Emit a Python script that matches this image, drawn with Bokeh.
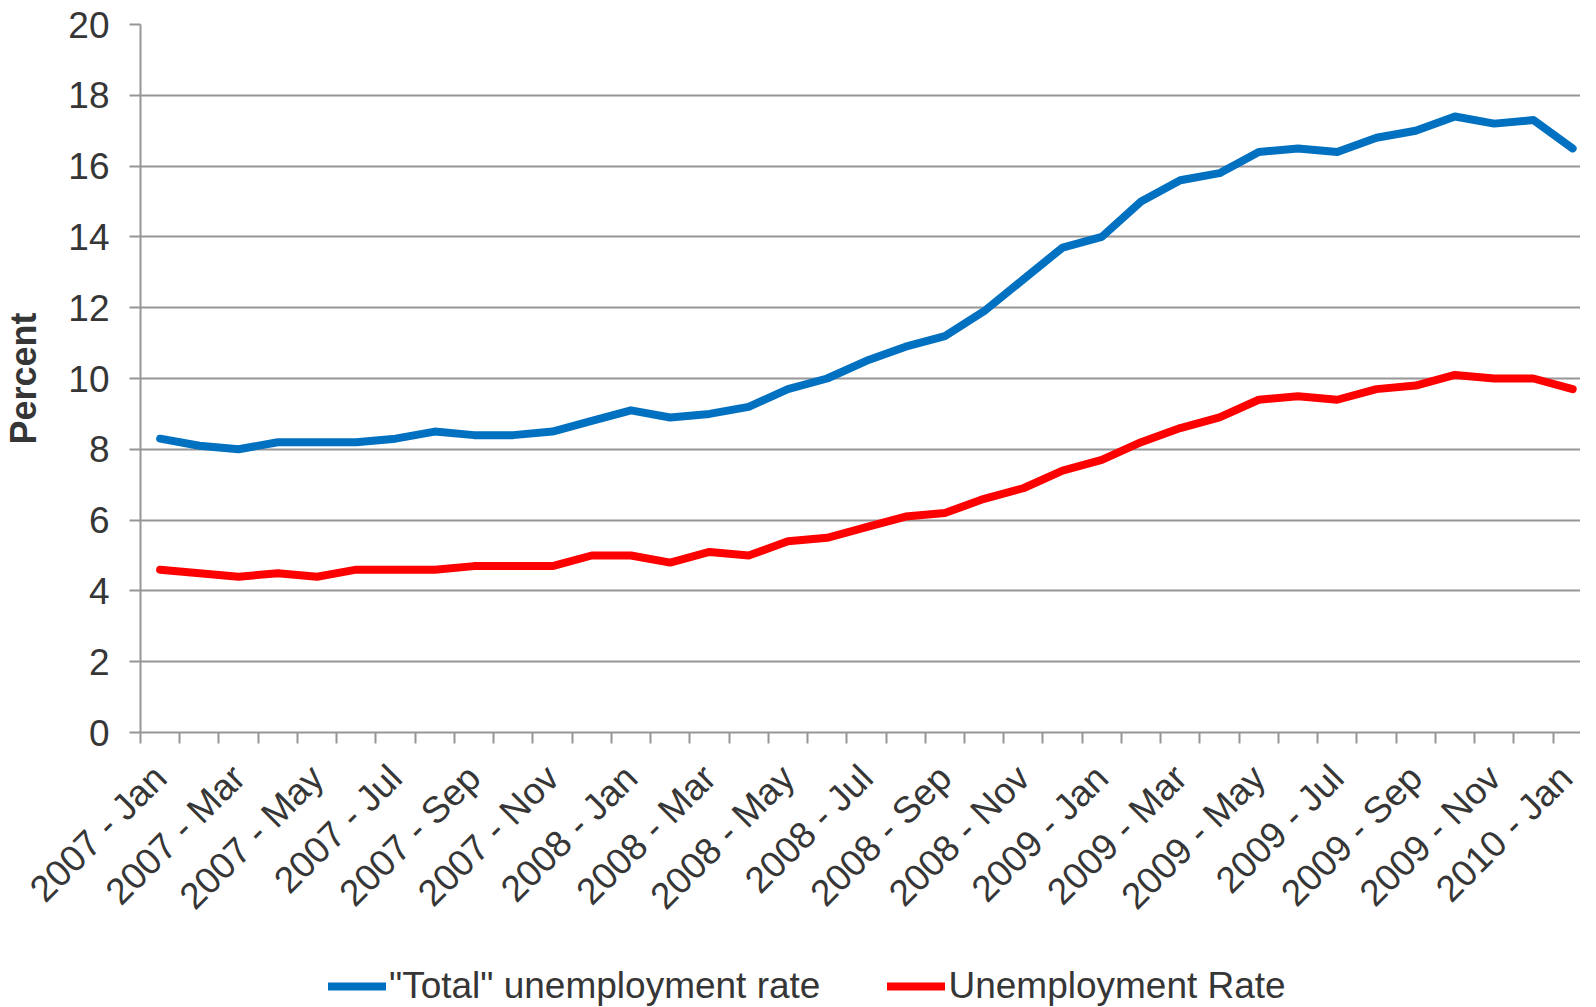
from math import pi
from bokeh.plotting import figure
from bokeh.layouts import column
from bokeh.models import FixedTicker, Legend, LegendItem, ColumnDataSource
from bokeh.embed import file_html
from bokeh.resources import INLINE

months = [
    "2007 - Jan", "2007 - Feb", "2007 - Mar", "2007 - Apr", "2007 - May", "2007 - Jun",
    "2007 - Jul", "2007 - Aug", "2007 - Sep", "2007 - Oct", "2007 - Nov", "2007 - Dec",
    "2008 - Jan", "2008 - Feb", "2008 - Mar", "2008 - Apr", "2008 - May", "2008 - Jun",
    "2008 - Jul", "2008 - Aug", "2008 - Sep", "2008 - Oct", "2008 - Nov", "2008 - Dec",
    "2009 - Jan", "2009 - Feb", "2009 - Mar", "2009 - Apr", "2009 - May", "2009 - Jun",
    "2009 - Jul", "2009 - Aug", "2009 - Sep", "2009 - Oct", "2009 - Nov", "2009 - Dec",
    "2010 - Jan",
]

total_rate = [
    8.3, 8.1, 8.0, 8.2, 8.2, 8.2, 8.3, 8.5, 8.4, 8.4, 8.5, 8.8,
    9.1, 8.9, 9.0, 9.2, 9.7, 10.0, 10.5, 10.9, 11.2, 11.9, 12.8, 13.7,
    14.0, 15.0, 15.6, 15.8, 16.4, 16.5, 16.4, 16.8, 17.0, 17.4, 17.2, 17.3,
    16.5,
]

unemployment_rate = [
    4.6, 4.5, 4.4, 4.5, 4.4, 4.6, 4.6, 4.6, 4.7, 4.7, 4.7, 5.0,
    5.0, 4.8, 5.1, 5.0, 5.4, 5.5, 5.8, 6.1, 6.2, 6.6, 6.9, 7.4,
    7.7, 8.2, 8.6, 8.9, 9.4, 9.5, 9.4, 9.7, 9.8, 10.1, 10.0, 10.0,
    9.7,
]

y_ticks = [0, 2, 4, 6, 8, 10, 12, 14, 16, 18, 20]

series_names = ['"Total" unemployment rate', "Unemployment Rate"]
series_colors = ["#0070C0", "#FF0000"]

FONT = "Liberation Sans"
TXT = "#363636"
GRID = "#969696"
LW = 8

x = list(range(len(months)))
src = ColumnDataSource(dict(x=x, total=total_rate, unemp=unemployment_rate))

p = figure(
    width=1580, height=939,
    x_range=(-0.5, 36.2), y_range=(0, 20),
    output_backend="svg", toolbar_location=None,
    min_border_left=134, min_border_top=24, min_border_right=0, min_border_bottom=207,
)
p.outline_line_color = None
p.background_fill_color = "white"
p.border_fill_color = "white"

p.line("x", "total", source=src, line_color=series_colors[0], line_width=LW,
       line_join="round", line_cap="round")
p.line("x", "unemp", source=src, line_color=series_colors[1], line_width=LW,
       line_join="round", line_cap="round")

# y axis
p.yaxis.ticker = FixedTicker(ticks=y_ticks)
p.yaxis.major_label_text_font = FONT
p.yaxis.major_label_text_font_size = "37px"
p.yaxis.major_label_text_color = TXT
p.yaxis.major_label_standoff = 20
p.yaxis.major_tick_out = 11
p.yaxis.major_tick_in = 0
p.yaxis.minor_tick_out = 0
p.yaxis.minor_tick_in = 0
p.yaxis.axis_line_color = GRID
p.yaxis.axis_line_width = 2
p.yaxis.major_tick_line_color = GRID
p.yaxis.major_tick_line_width = 2
p.yaxis.axis_label = "Percent"
p.yaxis.axis_label_text_font = FONT
p.yaxis.axis_label_text_font_style = "bold"
p.yaxis.axis_label_text_font_size = "36px"
p.yaxis.axis_label_text_color = TXT
p.yaxis.axis_label_standoff = 21

# x axis
label_ticks = x[::2]
p.xaxis.ticker = FixedTicker(ticks=label_ticks, minor_ticks=[i - 0.5 for i in range(len(months) + 1)])
p.xaxis.major_label_overrides = {i: months[i] for i in label_ticks}
p.xaxis.major_label_orientation = pi / 4
p.xaxis.major_label_text_font = FONT
p.xaxis.major_label_text_font_size = "37px"
p.xaxis.major_label_text_color = TXT
p.xaxis.major_label_standoff = 28
p.xaxis.major_tick_out = 0
p.xaxis.major_tick_in = 0
p.xaxis.minor_tick_out = 11
p.xaxis.minor_tick_in = 0
p.xaxis.minor_tick_line_color = GRID
p.xaxis.minor_tick_line_width = 2
p.xaxis.axis_line_color = GRID
p.xaxis.axis_line_width = 2

p.xgrid.grid_line_color = None
p.ygrid.ticker = FixedTicker(ticks=y_ticks)
p.ygrid.grid_line_color = GRID
p.ygrid.grid_line_width = 2

# legend strip below the chart (its frame is aligned with the chart's frame)
LH = 68
lg = figure(
    width=1580, height=LH, x_range=(-0.5, 36.2), y_range=(100, 120),
    output_backend="svg", toolbar_location=None,
    x_axis_location=None, y_axis_location=None,
    min_border_left=134, min_border_right=0, min_border_top=0, min_border_bottom=0,
)
lg.outline_line_color = None
lg.xgrid.grid_line_color = None
lg.ygrid.grid_line_color = None
# same series drawn again, outside the visible y range, only to feed the legend glyphs
r1 = lg.line("x", "total", source=src, line_color=series_colors[0], line_width=LW, line_cap="round")
r2 = lg.line("x", "unemp", source=src, line_color=series_colors[1], line_width=LW, line_cap="round")

legend = Legend(
    items=[LegendItem(label=series_names[0], renderers=[r1]),
           LegendItem(label=series_names[1], renderers=[r2])],
    orientation="horizontal",
    location=(188, 0),
    label_text_font=FONT, label_text_font_size="37px", label_text_color=TXT,
    glyph_width=58, glyph_height=40, label_standoff=3, spacing=67,
    padding=0, margin=0, border_line_color=None, background_fill_alpha=0,
)
lg.add_layout(legend, "center")

layout = column(p, lg, spacing=0)
open("out.html", "w").write(file_html(layout, INLINE))
